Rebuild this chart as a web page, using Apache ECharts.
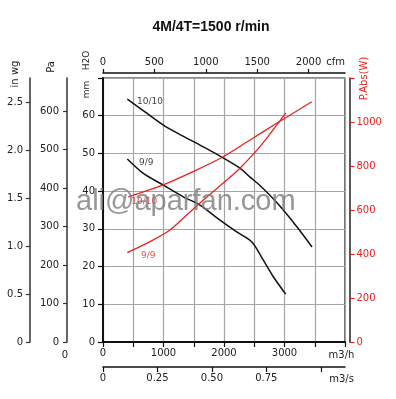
<!DOCTYPE html>
<html>
<head>
<meta charset="utf-8">
<script src="https://cdn.jsdelivr.net/npm/echarts@6/dist/echarts.min.js"></script>
<style>
html,body{margin:0;padding:0;background:#fff;}
#chart{width:396px;height:399px;}
</style>
</head>
<body>
<div id="chart"></div>
<script>
// ---- data ----
// pressure curves (flow m3/h, static pressure mm H2O)
const flow10 = [402, 694, 997, 1273, 1603, 1934, 2264, 2430, 2595, 2876, 3207, 3455];
const pres10 = [64.4, 61.0, 57.5, 55.0, 52.2, 49.3, 46.1, 43.7, 41.5, 36.9, 30.5, 25.2];
const flow9 = [402, 666, 997, 1327, 1603, 1934, 2210, 2458, 2650, 2815, 3020];
const pres9 = [48.5, 44.7, 41.6, 38.5, 36.3, 32.3, 29.2, 26.6, 21.7, 17.3, 12.7];
// absorbed power curves (flow m3/h, W)
const pflow10 = [418, 997, 1549, 1988, 2430, 2871, 3450];
const power10 = [660, 714, 782, 842, 918, 994, 1092];
const pflow9 = [402, 777, 1107, 1383, 1658, 2045, 2264, 2595, 2871, 3020];
const power9 = [406, 456, 509, 577, 645, 736, 790, 888, 986, 1042];
// curve labels [flow, value, text]
const pressLabels = [[777, 63.7, '10/10'], [716, 47.6, '9/9']];
const powerLabels = [[681, 638, '10/10'], [749, 392, '9/9']];
// ticks and tick labels
const m3hLabelVals = [0, 1000, 2000, 3000];
const cfmTicks = [0, 500, 1000, 1500, 2000];
const m3sTicks = [0, 0.25, 0.5, 0.75, 1.0];
const m3sLabels = ['0', '0.25', '0.50', '0.75', ''];
const mmLabelVals = [0, 10, 20, 30, 40, 50, 60];
const paTicks = [0, 100, 200, 300, 400, 500, 600];
const inwgTicks = [0, 0.5, 1.0, 1.5, 2.0, 2.5];
const inwgLabels = ['0', '0.5', '1.0', '1.5', '2.0', '2.5'];
const wLabelVals = [0, 200, 400, 600, 800, 1000];

// ---- unit conversions (axis extents) ----
const QMAX = 4000;          // m3/h
const MMMAX = 70;           // mm H2O
const CFM = QMAX / 1.699;   // cfm
const M3S = QMAX / 3600;    // m3/s
const PAMAX = MMMAX * 9.80665;
const INMAX = MMMAX / 25.4;

const zip = (a, b) => a.map((v, i) => [v, b[i]]);
const near = (arr, v) => arr.findIndex(t => Math.abs(t - v) < 1e-6);

const FONT = 'DejaVu Sans';
const TXT = '#222';
const RED = '#e8231c';
const lbl = (extra) => Object.assign({color: TXT, fontFamily: FONT, fontSize: 10}, extra);

const chart = echarts.init(document.getElementById('chart'), null, {renderer: 'canvas'});
const option = {
  animation: false,
  backgroundColor: '#fff',
  grid: {left: 103, right: 51, top: 78, bottom: 57, show: true, borderColor: '#111', borderWidth: 1.2, backgroundColor: 'transparent'},
  xAxis: [
    { type: 'value', position: 'bottom', min: 0, max: QMAX, interval: 500,
      axisLine: {show: true, onZero: false, lineStyle: {color: '#111', width: 2}},
      axisTick: {show: true, inside: false, length: 5, lineStyle: {color: '#111', width: 1.2}},
      axisLabel: lbl({margin: 6, formatter: v => near(m3hLabelVals, v) >= 0 ? String(v) : ''}),
      splitLine: {show: true, lineStyle: {color: '#a5a5a5', width: 1.2}} },
    { type: 'value', position: 'top', offset: 5, min: 0, max: CFM, interval: 500,
      axisLine: {show: true, onZero: false, lineStyle: {color: '#111', width: 1.5}},
      axisTick: {show: true, length: 4, customValues: cfmTicks, lineStyle: {color: '#111', width: 1.2}},
      axisLabel: lbl({margin: 6, customValues: cfmTicks, formatter: v => near(cfmTicks, v) >= 0 ? String(v) : ''}),
      splitLine: {show: false} },
    { type: 'value', position: 'bottom', offset: 25, min: 0, max: M3S, interval: 0.25,
      axisLine: {show: true, onZero: false, lineStyle: {color: '#111', width: 1.5}},
      axisTick: {show: true, length: 5, customValues: m3sTicks, lineStyle: {color: '#111', width: 1.2}},
      axisLabel: lbl({margin: 6, customValues: m3sTicks, formatter: v => { const i = near(m3sTicks, v); return i >= 0 ? m3sLabels[i] : ''; }}),
      splitLine: {show: false} }
  ],
  yAxis: [
    { type: 'value', position: 'left', min: 0, max: MMMAX, interval: 10,
      axisLine: {show: true, onZero: false, lineStyle: {color: '#111', width: 2}},
      axisTick: {show: true, length: 5, lineStyle: {color: '#111', width: 1.2}},
      axisLabel: lbl({margin: 8, formatter: v => near(mmLabelVals, v) >= 0 ? String(v) : ''}),
      splitLine: {show: true, lineStyle: {color: '#a5a5a5', width: 1.2}} },
    { type: 'value', position: 'left', offset: 36, min: 0, max: PAMAX, interval: 100,
      axisLine: {show: true, onZero: false, lineStyle: {color: '#333', width: 1.5}},
      axisTick: {show: true, length: 4, customValues: paTicks, lineStyle: {color: '#333', width: 1.2}},
      axisLabel: lbl({margin: 8, customValues: paTicks, formatter: v => near(paTicks, v) >= 0 ? String(v) : ''}),
      splitLine: {show: false} },
    { type: 'value', position: 'left', offset: 73, min: 0, max: INMAX, interval: 0.5,
      axisLine: {show: true, onZero: false, lineStyle: {color: '#333', width: 1.5}},
      axisTick: {show: true, length: 4, customValues: inwgTicks, lineStyle: {color: '#333', width: 1.2}},
      axisLabel: lbl({margin: 7, customValues: inwgTicks, formatter: v => { const i = near(inwgTicks, v); return i >= 0 ? inwgLabels[i] : ''; }}),
      splitLine: {show: false} },
    { type: 'value', position: 'right', offset: 4.5, min: 0, max: 1200, interval: 200,
      axisLine: {show: true, onZero: false, lineStyle: {color: '#222', width: 1.5}},
      axisTick: {show: true, length: 5, lineStyle: {color: RED, width: 1.2}},
      axisLabel: lbl({color: RED, margin: 7, formatter: v => near(wLabelVals, v) >= 0 ? String(v) : ''}),
      splitLine: {show: false} }
  ],
  series: [
    { type: 'line', xAxisIndex: 0, yAxisIndex: 0, data: zip(flow10, pres10), showSymbol: false, smooth: 0.3,
      lineStyle: {color: '#111', width: 1.5}, silent: true },
    { type: 'line', xAxisIndex: 0, yAxisIndex: 0, data: zip(flow9, pres9), showSymbol: false, smooth: 0.3,
      lineStyle: {color: '#111', width: 1.5}, silent: true },
    { type: 'line', xAxisIndex: 0, yAxisIndex: 3, data: zip(pflow10, power10), showSymbol: false, smooth: 0.3,
      lineStyle: {color: RED, width: 1.3}, silent: true },
    { type: 'line', xAxisIndex: 0, yAxisIndex: 3, data: zip(pflow9, power9), showSymbol: false, smooth: 0.3,
      lineStyle: {color: RED, width: 1.3}, silent: true },
    { type: 'scatter', xAxisIndex: 0, yAxisIndex: 0, data: pressLabels, symbolSize: 1,
      itemStyle: {color: 'rgba(0,0,0,0)'}, silent: true,
      label: {show: true, position: 'inside', formatter: p => p.data[2], color: '#111', fontFamily: FONT, fontSize: 9} },
    { type: 'scatter', xAxisIndex: 0, yAxisIndex: 3, data: powerLabels, symbolSize: 1,
      itemStyle: {color: 'rgba(0,0,0,0)'}, silent: true,
      label: {show: true, position: 'inside', formatter: p => p.data[2], color: RED, fontFamily: FONT, fontSize: 9} }
  ],
  graphic: [
    {type: 'text', x: 211, y: 27, style: {text: '4M/4T=1500 r/min', fontFamily: 'Liberation Sans', fontWeight: 'bold', fontSize: 14, fill: '#111', textAlign: 'center', textVerticalAlign: 'middle'}},
    {type: 'text', x: 15.5, y: 74, rotation: Math.PI / 2, style: {text: 'in wg', fontFamily: FONT, fontSize: 10, fill: TXT, textAlign: 'center', textVerticalAlign: 'middle'}},
    {type: 'text', x: 51, y: 67, rotation: Math.PI / 2, style: {text: 'Pa', fontFamily: FONT, fontSize: 10, fill: TXT, textAlign: 'center', textVerticalAlign: 'middle'}},
    {type: 'text', x: 86.5, y: 60.5, rotation: Math.PI / 2, style: {text: 'H2O', fontFamily: FONT, fontSize: 9, fill: TXT, textAlign: 'center', textVerticalAlign: 'middle'}},
    {type: 'text', x: 86.5, y: 89.5, rotation: Math.PI / 2, style: {text: 'mm', fontFamily: FONT, fontSize: 9, fill: TXT, textAlign: 'center', textVerticalAlign: 'middle'}},
    {type: 'text', x: 364.5, y: 78.5, rotation: Math.PI / 2, style: {text: 'P.Abs(W)', fontFamily: FONT, fontSize: 10, fill: RED, textAlign: 'center', textVerticalAlign: 'middle'}},
    {type: 'text', x: 345, y: 62, style: {text: 'cfm', fontFamily: FONT, fontSize: 10, fill: TXT, textAlign: 'right', textVerticalAlign: 'middle'}},
    {type: 'text', x: 341.5, y: 355, style: {text: 'm3/h', fontFamily: FONT, fontSize: 10, fill: TXT, textAlign: 'center', textVerticalAlign: 'middle'}},
    {type: 'text', x: 341.5, y: 379, style: {text: 'm3/s', fontFamily: FONT, fontSize: 10, fill: TXT, textAlign: 'center', textVerticalAlign: 'middle'}},
    {type: 'text', x: 65, y: 355, style: {text: '0', fontFamily: FONT, fontSize: 10, fill: TXT, textAlign: 'center', textVerticalAlign: 'middle'}},
    {type: 'text', x: 76, y: 202, z: 100, style: {text: 'ali@aparfan.com', fontFamily: 'Liberation Sans', fontSize: 29, fill: 'rgba(125,125,125,0.8)', textAlign: 'left', textVerticalAlign: 'middle'}}
  ]
};
chart.setOption(option);
</script>
</body>
</html>
